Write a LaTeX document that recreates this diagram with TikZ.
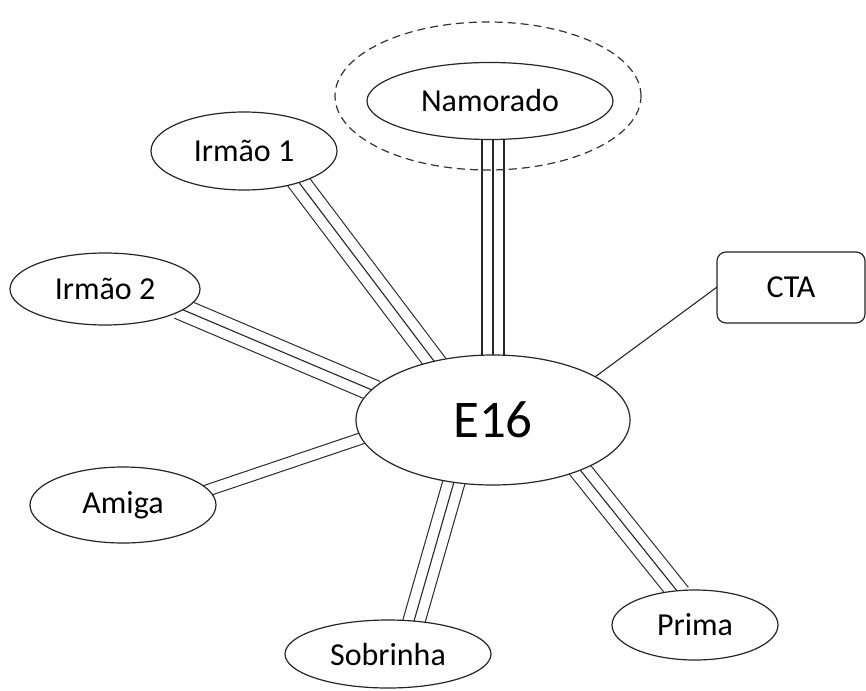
\documentclass[tikz,border=0pt]{standalone}
\usepackage{fontspec}
\setmainfont{Carlito}
\usetikzlibrary{shapes.geometric,backgrounds}
\begin{document}
\begin{tikzpicture}[x=1pt,y=-1pt,
  oval/.style={ellipse, draw=black!85, line width=1.2pt, fill=white, inner sep=0pt,
    font=\fontsize{32}{37}\selectfont},
  link/.style={draw=black!85, line width=1.1pt, shorten <=-5pt, shorten >=-5pt},
  threeway/.style={link, double=white, double distance=20.9pt},
  twoway/.style={link, double=white, double distance=10.3pt},
  group/.style={ellipse, draw=black!80, line width=1.2pt, dash pattern=on 8pt off 5pt,
    inner sep=0pt}]
\useasboundingbox (0,0) rectangle (866,690);

% central person and the people around
\node[oval, minimum width=274pt, minimum height=130pt,
  font=\fontsize{53}{60}\selectfont] (e) at (493,420) {E16};
\node[oval, minimum width=246pt, minimum height=77pt] (nam) at (490,101) {Namorado};
\node[oval, minimum width=186pt, minimum height=78pt] (ir1) at (244,151) {Irmão 1};
\node[oval, minimum width=190pt, minimum height=72pt] (ir2) at (105,289) {Irmão 2};
\node[oval, minimum width=186pt, minimum height=76pt] (ami) at (123,505) {Amiga};
\node[oval, minimum width=206pt, minimum height=68pt] (sob) at (388,654) {Sobrinha};
\node[oval, minimum width=166pt, minimum height=70pt] (pri) at (695,625) {Prima};
\node[draw=black!85, line width=1.2pt, fill=white, rounded corners=9pt,
  minimum width=148pt, minimum height=71pt, inner sep=0pt,
  font=\fontsize{32}{37}\selectfont] (cta) at (791,287.5) {CTA};

% dashed ring round the partner
\node[group, minimum width=306pt, minimum height=148pt] (ring) at (488,96) {};

% ties, drawn beneath the filled nodes
\begin{scope}[on background layer]
  \draw[threeway] (e.north |- nam.south) -- (e.north);
  \draw[link] (e.north |- nam.south) -- (e.north);
  \foreach \a/\b in {ir1.-30/e.135.5, ir2.-15/e.166.6, sob.52/e.238.9, pri.118/e.-30.3} {
    \draw[threeway] (\a) -- (\b);
    \draw[link] (\a) -- (\b);
  }
  \draw[twoway] (ami.10) -- (e.188.5);
  \draw[link] (cta.west) -- (e.23);
\end{scope}
\end{tikzpicture}
\end{document}
